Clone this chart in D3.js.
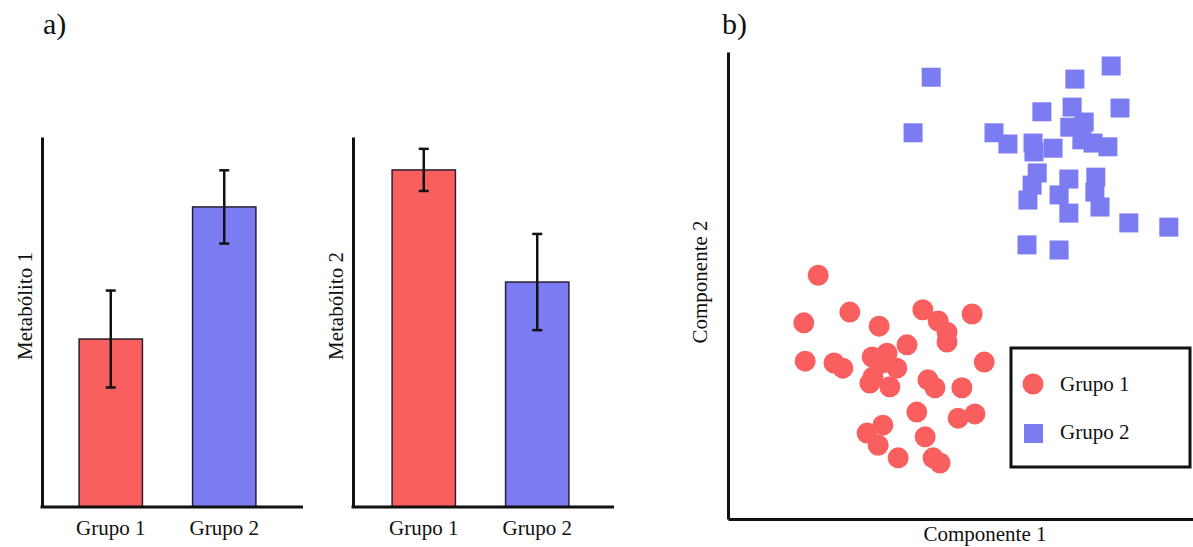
<!DOCTYPE html>
<html>
<head>
<meta charset="utf-8">
<script src="https://cdn.jsdelivr.net/npm/d3@7"></script>
<style>
	body { margin: 0; background: #fff; }
</style>
</head>
<body>
<div id="chart"></div>
<script>
//groups shared by every panel
var groups = ["Grupo 1", "Grupo 2"];
var groupColors = ["#fa5f5f", "#7b7bf2"];

//bar panels (arbitrary units, 0..10)
var metab1Means = [4.54, 8.11];
var metab1Errors = [1.31, 0.99];
var metab2Means = [9.11, 6.08];
var metab2Errors = [0.57, 1.30];

//scatter, Componente 1 / Componente 2 (0..100)
var grupo1X = [19.4, 26.2, 16.3, 32.5, 41.9, 45.2, 47.1, 47.1, 52.5, 16.6, 22.8, 24.7, 31.0, 34.2, 38.5, 36.3, 31.2,
	34.8, 30.5, 33.1, 55.1, 43.0, 44.5, 50.3, 40.6, 49.5, 53.1, 33.3, 29.9, 32.3, 42.4, 36.6, 44.1, 45.6];
var grupo1Y = [52.2, 44.3, 42.0, 41.3, 44.8, 42.4, 40.0, 37.9, 43.9, 33.8, 33.4, 32.3, 34.7, 35.5, 37.3, 32.3, 30.4,
	28.3, 29.1, 33.4, 33.6, 29.8, 28.1, 28.1, 22.9, 21.6, 22.5, 20.1, 18.4, 15.8, 17.6, 13.1, 13.1, 12.0];
var grupo2X = [43.7, 82.4, 74.6, 84.3, 67.5, 74.0, 39.8, 57.2, 60.2, 65.6, 65.8, 69.9, 73.5, 76.6, 76.1, 78.5, 81.7,
	66.5, 65.4, 64.5, 73.3, 71.2, 73.3, 79.1, 78.9, 80.0, 86.2, 94.8, 64.3, 71.2];
var grupo2Y = [94.6, 97.0, 94.2, 88.0, 87.2, 88.2, 82.7, 82.7, 80.3, 80.5, 78.6, 79.4, 83.9, 85.0, 81.2, 80.5, 79.7,
	74.1, 71.5, 68.3, 72.8, 69.4, 65.5, 73.2, 70.0, 66.8, 63.4, 62.5, 58.7, 57.6];

var width = 1193, height = 547;
var serif = "'Liberation Serif', 'DejaVu Serif', serif";

var svg = d3.select("#chart").append("svg")
	.attr("width", width)
	.attr("height", height)
	.attr("font-family", serif)
	.style("font-family", serif);

///////////////////////////////////////////////////////////////////////////
/////////////////////////////// Bar panels ////////////////////////////////
///////////////////////////////////////////////////////////////////////////

var barY = d3.scaleLinear().domain([0, 10]).range([507, 137]);

var drawBars = function(originX, means, errors, label, shift){
	var g = svg.append("g");

	var x = d3.scaleBand()
		.domain(groups)
		.range([originX + shift, originX + shift + 251])
		.paddingInner(0.442)
		.paddingOuter(0.327);

	g.selectAll(".bar")
		.data(groups)
		.enter().append("rect")
		.attr("class", "bar")
		.attr("x", function(d) { return x(d); })
		.attr("y", function(d, i) { return barY(means[i]); })
		.attr("width", x.bandwidth())
		.attr("height", function(d, i) { return barY(0) - barY(means[i]); })
		.style("fill", function(d, i) { return groupColors[i]; })
		.style("stroke", "#2a2030")
		.style("stroke-width", 1.5);

	//error bars
	var err = g.selectAll(".err")
		.data(groups)
		.enter().append("g")
		.attr("class", "err")
		.attr("transform", function(d) { return "translate(" + (x(d) + x.bandwidth() / 2) + ",0)"; });
	err.append("line")
		.attr("y1", function(d, i) { return barY(means[i] + errors[i]); })
		.attr("y2", function(d, i) { return barY(means[i] - errors[i]); });
	err.append("line")
		.attr("x1", -5).attr("x2", 5)
		.attr("y1", function(d, i) { return barY(means[i] + errors[i]); })
		.attr("y2", function(d, i) { return barY(means[i] + errors[i]); });
	err.append("line")
		.attr("x1", -5).attr("x2", 5)
		.attr("y1", function(d, i) { return barY(means[i] - errors[i]); })
		.attr("y2", function(d, i) { return barY(means[i] - errors[i]); });
	err.selectAll("line")
		.style("stroke", "#111")
		.style("stroke-width", 2.5);

	//axes, no ticks
	var yAxis = g.append("g")
		.attr("transform", "translate(" + originX + ",0)")
		.call(d3.axisLeft(barY).tickValues([]).tickSizeOuter(0));
	yAxis.select(".domain").style("stroke", "#111").style("stroke-width", 3);

	g.append("line")
		.attr("x1", originX - 1.5)
		.attr("x2", originX + 261)
		.attr("y1", barY(0))
		.attr("y2", barY(0))
		.style("stroke", "#111")
		.style("stroke-width", 3);

	g.selectAll(".glabel")
		.data(groups)
		.enter().append("text")
		.attr("class", "glabel")
		.attr("x", function(d) { return x(d) + x.bandwidth() / 2; })
		.attr("y", 535)
		.attr("text-anchor", "middle")
		.style("font-family", serif)
		.style("font-size", "21px")
		.style("fill", "#111")
		.text(function(d) { return d; });

	g.append("text")
		.attr("transform", "translate(" + (originX - 10) + "," + 306 + ") rotate(-90)")
		.attr("text-anchor", "middle")
		.style("font-family", serif)
		.style("font-size", "21px")
		.style("fill", "#111")
		.text(label);
};

drawBars(42, metab1Means, metab1Errors, "Metabólito 1", 0);
drawBars(353, metab2Means, metab2Errors, "Metabólito 2", 2);

///////////////////////////////////////////////////////////////////////////
////////////////////////////// Scatter panel //////////////////////////////
///////////////////////////////////////////////////////////////////////////

var sx = d3.scaleLinear().domain([0, 100]).range([728, 1193]);
var sy = d3.scaleLinear().domain([0, 100]).range([519, 52]);

var sc = svg.append("g");

sc.selectAll(".g2")
	.data(d3.range(grupo2X.length))
	.enter().append("rect")
	.attr("class", "g2")
	.attr("x", function(i) { return sx(grupo2X[i]) - 9.5; })
	.attr("y", function(i) { return sy(grupo2Y[i]) - 9.5; })
	.attr("width", 19)
	.attr("height", 19)
	.style("fill", groupColors[1]);

sc.selectAll(".g1")
	.data(d3.range(grupo1X.length))
	.enter().append("circle")
	.attr("class", "g1")
	.attr("cx", function(i) { return sx(grupo1X[i]); })
	.attr("cy", function(i) { return sy(grupo1Y[i]); })
	.attr("r", 10.5)
	.style("fill", groupColors[0]);

var sxAxis = sc.append("g")
	.attr("transform", "translate(0," + sy(0) + ")")
	.call(d3.axisBottom(sx).tickValues([]).tickSizeOuter(0));
var syAxis = sc.append("g")
	.attr("transform", "translate(" + sx(0) + ",0)")
	.call(d3.axisLeft(sy).tickValues([]).tickSizeOuter(0));
sc.selectAll(".domain").style("stroke", "#111").style("stroke-width", 3);

sc.append("text")
	.attr("x", 985)
	.attr("y", 541)
	.attr("text-anchor", "middle")
	.style("font-family", serif)
	.style("font-size", "21px")
	.style("fill", "#111")
	.text("Componente 1");

sc.append("text")
	.attr("transform", "translate(707,282) rotate(-90)")
	.attr("text-anchor", "middle")
	.style("font-family", serif)
	.style("font-size", "21px")
	.style("fill", "#111")
	.text("Componente 2");

//legend
var legend = sc.append("g").attr("transform", "translate(1011,348)");
legend.append("rect")
	.attr("width", 179)
	.attr("height", 119)
	.style("fill", "#fff")
	.style("stroke", "#111")
	.style("stroke-width", 3);
legend.append("circle")
	.attr("cx", 22).attr("cy", 36).attr("r", 10.5)
	.style("fill", groupColors[0]);
legend.append("rect")
	.attr("x", 13).attr("y", 76).attr("width", 19).attr("height", 19)
	.style("fill", groupColors[1]);
legend.selectAll(".ltext")
	.data(groups)
	.enter().append("text")
	.attr("class", "ltext")
	.attr("x", 49)
	.attr("y", function(d, i) { return 43 + i * 48; })
	.style("font-family", serif)
	.style("font-size", "21px")
	.style("fill", "#111")
	.text(function(d) { return d; });

//panel letters
svg.append("text").attr("x", 43).attr("y", 34)
	.style("font-family", serif).style("font-size", "30px").style("fill", "#111").text("a)");
svg.append("text").attr("x", 722).attr("y", 34)
	.style("font-family", serif).style("font-size", "30px").style("fill", "#111").text("b)");
</script>
</body>
</html>
